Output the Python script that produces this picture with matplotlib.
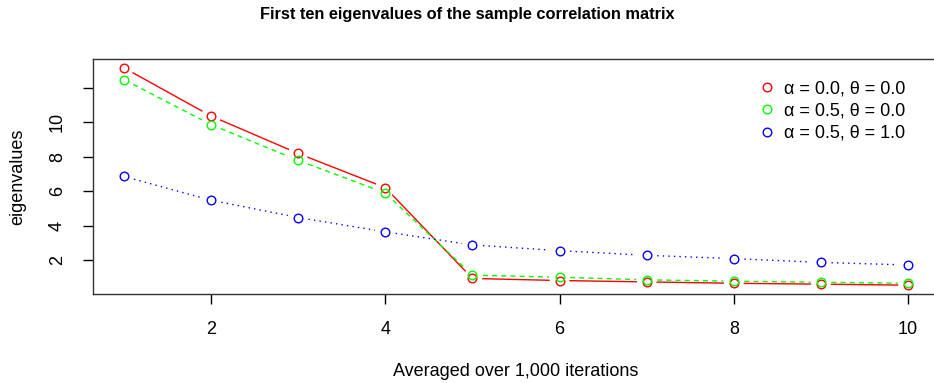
import numpy as np
import matplotlib
matplotlib.use("Agg")
import matplotlib.pyplot as plt

plt.rcParams['font.family'] = ['Liberation Sans', 'DejaVu Sans']

x = list(range(1, 11))
red_vals = [13.15, 10.36, 8.19, 6.21, 0.95, 0.83, 0.75, 0.67, 0.62, 0.56]
green_vals = [12.47, 9.86, 7.79, 5.90, 1.14, 1.02, 0.87, 0.79, 0.73, 0.67]
blue_vals = [6.86, 5.48, 4.48, 3.65, 2.89, 2.56, 2.29, 2.10, 1.88, 1.73]
labels = ["\u03b1 = 0.0, \u03b8 = 0.0", "\u03b1 = 0.5, \u03b8 = 0.0", "\u03b1 = 0.5, \u03b8 = 1.0"]
colors = ["#FF0000", "#00FF00", "#0000FF"]
styles = ["-", (0, (3.6, 3)), (0, (1, 3))]
xticks = [2, 4, 6, 8, 10]
yticks = [2, 4, 6, 8, 10, 12]
yticklabels = ["2", "4", "6", "8", "10", ""]

W, H = 934, 383
fig = plt.figure(figsize=(W / 100, H / 100), dpi=100)
ax = fig.add_axes([92.5 / W, (H - 294) / H, 847 / W, (294 - 59) / H])
ax.set_xlim(0.64, 10.36)
ax.set_ylim(0.05, 13.66)

fig.canvas.draw()
r_px = 10.5
series = [red_vals, green_vals, blue_vals]
for vals, c, ls, lab in zip(series, colors, styles, labels):
    pts = ax.transData.transform(np.column_stack([x, vals]))
    for i in range(len(pts) - 1):
        p0, p1 = pts[i], pts[i + 1]
        d = p1 - p0
        L = np.hypot(*d)
        if L <= 2 * r_px:
            continue
        u = d / L
        a = p0 + u * r_px
        b = p1 - u * r_px
        seg = ax.transData.inverted().transform(np.vstack([a, b]))
        ax.plot(seg[:, 0], seg[:, 1], color=c, linestyle=ls, linewidth=1.0)
    ax.plot(x, vals, linestyle="none", marker="o", markersize=6.2,
            markerfacecolor="none", markeredgecolor=c, markeredgewidth=1.0, label=lab)

ax.set_xticks(xticks)
ax.set_yticks(yticks)
ax.set_yticklabels(yticklabels)
ax.tick_params(axis="both", direction="out", length=7.2, width=1, labelsize=13, pad=12)
for lbl in ax.get_yticklabels():
    lbl.set_rotation(90)
    lbl.set_va("center")
for sp in ax.spines.values():
    sp.set_linewidth(1)
    sp.set_color("#333333")

fig.text(18 / W, 1 - 176.5 / H, "eigenvalues", rotation=90, ha="center", va="center", fontsize=13)
fig.text(516 / W, 1 - 372 / H, "Averaged over 1,000 iterations", ha="center", va="center", fontsize=13)
fig.text(0.5, 1 - 19.5 / H, "First ten eigenvalues of the sample correlation matrix",
         ha="center", va="baseline", fontsize=11.8, fontweight="bold")

leg = ax.legend(loc="upper right", bbox_to_anchor=((905 - 92.5) / 847, (294 - 80) / 235),
                frameon=False, fontsize=13, handletextpad=0.4, labelspacing=0.3,
                handlelength=1.0, borderaxespad=0, borderpad=0)

fig.savefig("out.png", dpi=100)
